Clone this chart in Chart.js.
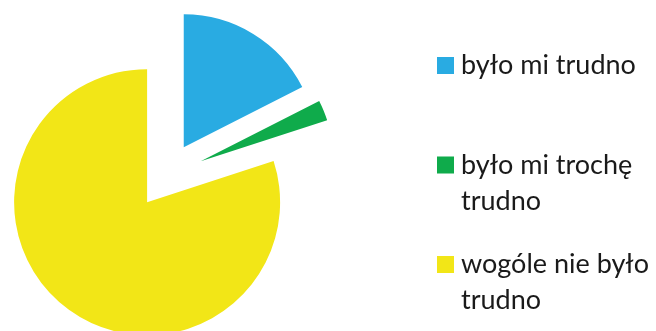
<!DOCTYPE html>
<html>
<head>
<meta charset="utf-8">
<script src="https://cdn.jsdelivr.net/npm/chart.js@4"></script>
<style>
  body { margin: 0; background: #fff; overflow: hidden; }
</style>
</head>
<body>
<canvas id="myChart" width="656" height="331"></canvas>
<script>
  // Categories (multi-line labels as arrays) and their shares in %
  const labels = ['było mi trudno', ['było mi trochę', 'trudno'], ['wogóle nie było', 'trudno']];
  const values = [17.5, 2.5, 80];
  const colors = ['#29abe2', '#0fab4b', '#f2e617'];
  // how far each slice is pulled out from the centre (px)
  const explode = [33, 37, 33];

  // Move each arc out along its own middle angle, like an exploded Excel pie
  const explodePlugin = {
    id: 'explode',
    beforeDatasetsDraw(chart) {
      const area = chart.chartArea;
      const cx = (area.left + area.right) / 2;
      const cy = (area.top + area.bottom) / 2;
      chart.getDatasetMeta(0).data.forEach((arc, i) => {
        const mid = (arc.startAngle + arc.endAngle) / 2;
        arc.x = cx + explode[i] * Math.cos(mid);
        arc.y = cy + explode[i] * Math.sin(mid);
      });
    }
  };

  // Legend on the right, with wrapped labels and wide spacing
  const sideLegend = {
    id: 'sideLegend',
    afterDraw(chart) {
      const ctx = chart.ctx;
      const bg = chart.data.datasets[0].backgroundColor;
      ctx.save();
      ctx.font = '27px Lato';
      ctx.textBaseline = 'alphabetic';
      chart.data.labels.forEach((label, i) => {
        const lines = [].concat(label);
        const base = 74 + i * 99.5;
        ctx.fillStyle = bg[i];
        ctx.fillRect(437, base - 17, 17, 17);
        ctx.fillStyle = '#1a1a1a';
        lines.forEach((line, j) => ctx.fillText(line, 461, base + j * 36));
      });
      ctx.restore();
    }
  };

  const ctx = document.getElementById('myChart').getContext('2d');

  const myChart = new Chart(ctx, {
    type: 'pie',
    data: {
      labels: labels,
      datasets: [{
        data: values,
        backgroundColor: colors,
        borderWidth: 0
      }]
    },
    options: {
      responsive: false,
      animation: false,
      radius: 133,
      layout: {
        padding: { left: 0, right: 323, top: 20, bottom: 0 }
      },
      plugins: {
        legend: { display: false },
        tooltip: { enabled: false }
      }
    },
    plugins: [explodePlugin, sideLegend]
  });
</script>
</body>
</html>
